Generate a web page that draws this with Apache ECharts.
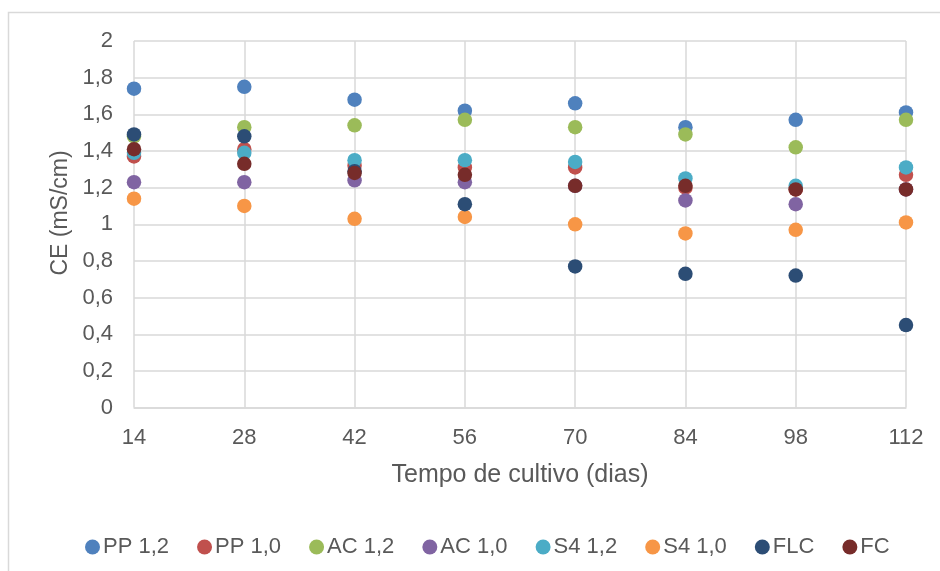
<!DOCTYPE html>
<html>
<head>
<meta charset="utf-8">
<script src="https://cdn.jsdelivr.net/npm/echarts@6/dist/echarts.min.js"></script>
<style>
html,body{margin:0;padding:0;background:#fff;}
#c{width:940px;height:571px;}
</style>
</head>
<body>
<div id="c"></div>
<script>
var days = [14, 28, 42, 56, 70, 84, 98, 112];
var seriesNames = ['PP 1,2', 'PP 1,0', 'AC 1,2', 'AC 1,0', 'S4 1,2', 'S4 1,0', 'FLC', 'FC'];
var pp12 = [1.74, 1.75, 1.68, 1.62, 1.66, 1.53, 1.57, 1.61];
var pp10 = [1.37, 1.41, 1.32, 1.31, 1.31, 1.20, 1.19, 1.27];
var ac12 = [1.48, 1.53, 1.54, 1.57, 1.53, 1.49, 1.42, 1.57];
var ac10 = [1.23, 1.23, 1.24, 1.23, 1.21, 1.13, 1.11, 1.19];
var s412 = [1.39, 1.39, 1.35, 1.35, 1.34, 1.25, 1.21, 1.31];
var s410 = [1.14, 1.10, 1.03, 1.04, 1.00, 0.95, 0.97, 1.01];
var flc  = [1.49, 1.48, 1.29, 1.11, 0.77, 0.73, 0.72, 0.45];
var fc   = [1.41, 1.33, 1.28, 1.27, 1.21, 1.21, 1.19, 1.19];
var colors = ['#4F81BD', '#C0504D', '#9BBB59', '#8064A2', '#4BACC6', '#F79646', '#2C4D75', '#772C2A'];
var allValues = [pp12, pp10, ac12, ac10, s412, s410, flc, fc];

var textColor = '#595959';
var gridColor = '#d9d9d9';
var font = 'Liberation Sans, Arial, sans-serif';

function fmt(v) {
  return String(Math.round(v * 10) / 10).replace('.', ',');
}

var series = seriesNames.map(function (name, i) {
  return {
    name: name,
    type: 'scatter',
    symbol: 'circle',
    symbolSize: 14.5,
    itemStyle: { color: colors[i], opacity: 1 },
    data: days.map(function (d, j) { return [d, allValues[i][j]]; }),
    z: 2 + i
  };
});

var chart = echarts.init(document.getElementById('c'), null, { renderer: 'canvas' });
chart.setOption({
  animation: false,
  color: colors,
  textStyle: { fontFamily: font },
  grid: { left: 134, right: 34, top: 41, bottom: 163.4 },
  xAxis: {
    type: 'value',
    min: 14, max: 112, interval: 14,
    name: 'Tempo de cultivo (dias)',
    nameLocation: 'middle',
    nameGap: 55,
    nameTextStyle: { color: textColor, fontSize: 25, fontFamily: font },
    axisLine: { show: true, lineStyle: { color: gridColor, width: 1.5 } },
    axisTick: { show: false },
    axisLabel: { color: textColor, fontSize: 22, margin: 19, fontFamily: font },
    splitLine: { show: true, lineStyle: { color: gridColor, width: 1.5 } }
  },
  yAxis: {
    type: 'value',
    min: 0, max: 2, interval: 0.2,
    axisLine: { show: false },
    axisTick: { show: false },
    axisLabel: { color: textColor, fontSize: 22, margin: 21, fontFamily: font, formatter: fmt },
    splitLine: { show: true, lineStyle: { color: gridColor, width: 1.5 } }
  },
  legend: {
    data: seriesNames,
    left: 80,
    top: 531,
    icon: 'circle',
    itemWidth: 15,
    itemHeight: 15,
    itemGap: 28,
    textStyle: { color: textColor, fontSize: 22, fontFamily: font, padding: [0, 0, 0, -2] }
  },
  graphic: [
    {
      type: 'rect',
      shape: { x: 8.5, y: 12.5, width: 1000, height: 1000 },
      style: { fill: 'none', stroke: gridColor, lineWidth: 1.5 },
      silent: true, z: -10
    },
    {
      type: 'text',
      x: 61, y: 213,
      rotation: Math.PI / 2,
      style: {
        text: 'CE (mS/cm)',
        fill: textColor,
        font: '23px ' + font,
        align: 'center',
        verticalAlign: 'middle'
      }
    }
  ],
  series: series
});
</script>
</body>
</html>
